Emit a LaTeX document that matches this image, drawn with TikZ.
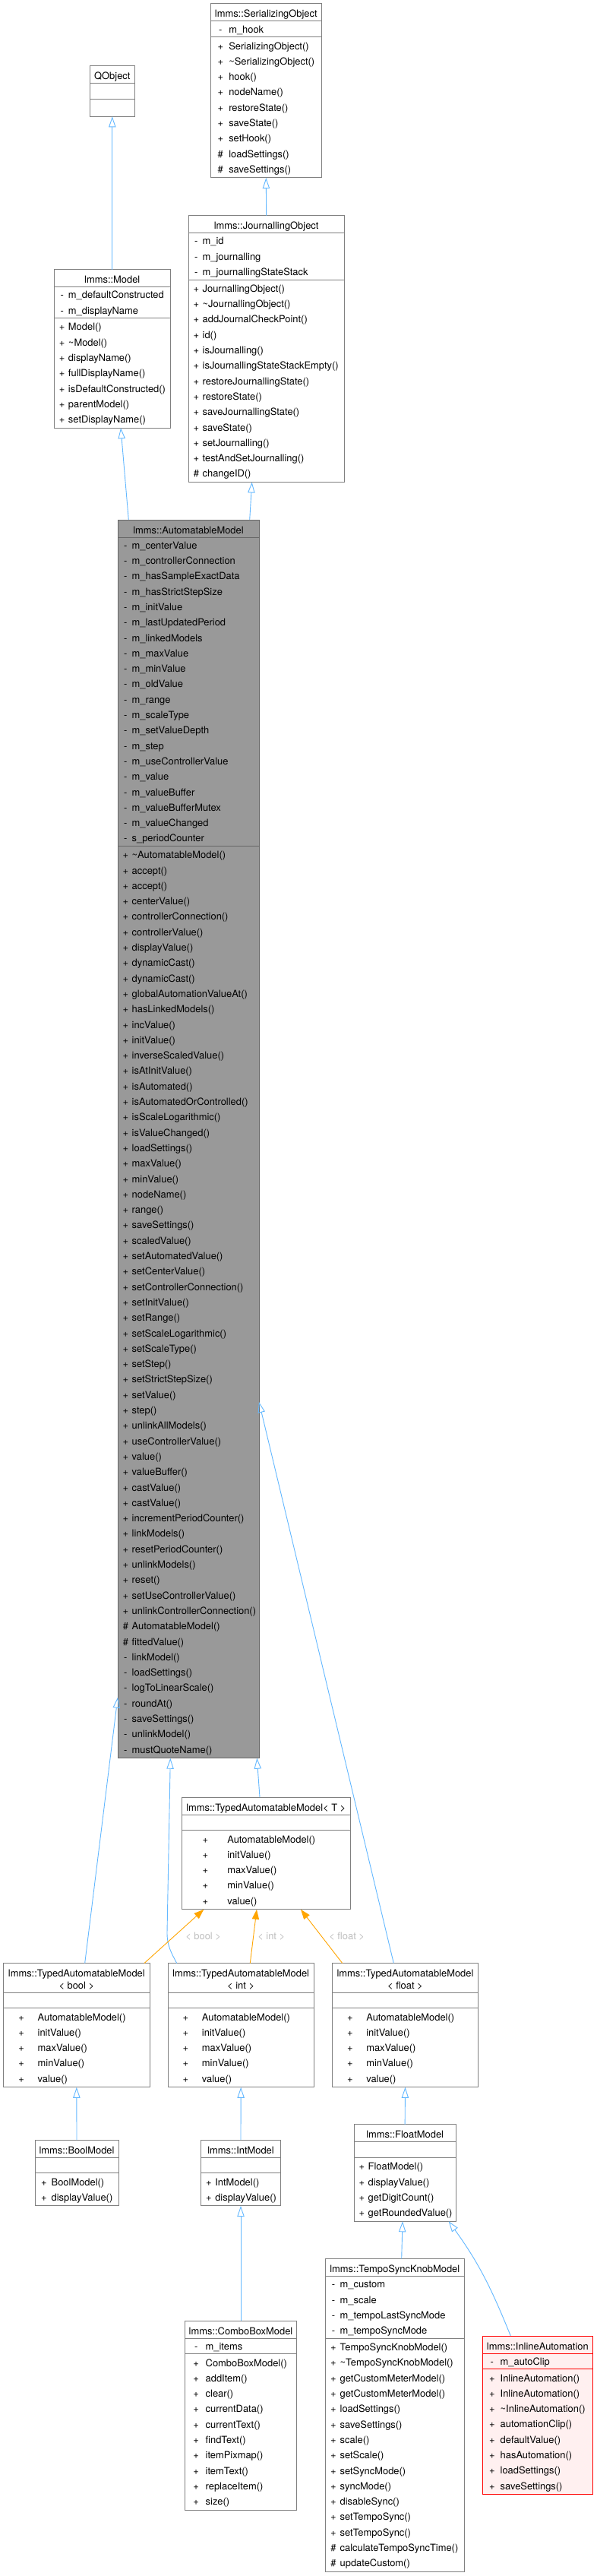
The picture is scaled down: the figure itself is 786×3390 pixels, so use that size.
\documentclass[tikz,border=0pt]{standalone}
\usepackage{fontspec}
\setmainfont{TeX Gyre Heros}
\usetikzlibrary{arrows.meta,positioning}
\definecolor{boxline}{HTML}{808080}
\definecolor{amfill}{HTML}{999999}
\definecolor{amline}{HTML}{666666}
\definecolor{inlinefill}{HTML}{FFF0F0}
\definecolor{inlineline}{HTML}{FF0000}
\definecolor{edgeblue}{HTML}{63B8FF}
\definecolor{tmplorange}{HTML}{FFA500}
\definecolor{lblgrey}{HTML}{BEBEBE}
\newlength\signw
\newcommand\rowstrut{\rule[-5.3pt]{0pt}{20.3pt}}
\newcommand\hdstrut{\rule[-5pt]{0pt}{23pt}}
\newcommand\mb[2]{\mbox{\makebox[\signw]{#1}#2}\rowstrut}
\tikzset{
  box/.style={draw=boxline,fill=white,line width=1pt,outer sep=0pt},
  hd/.style={box,anchor=north west,inner sep=0pt,minimum width=#1,align=center,font=\fontsize{12.9}{16}\selectfont},
  sec/.style 2 args={box,inner xsep=2pt,text width=#1,align=left,font=\fontsize{12.9}{20.3}\selectfont,execute at begin node={\setlength\signw{#2}}},
  attrs/.style 2 args={sec={#1}{#2},inner ysep=0.25pt},
  meths/.style 2 args={sec={#1}{#2},inner ysep=1.25pt},
  hot/.style={fill=amfill,draw=amline},
  inl/.style={fill=inlinefill,draw=inlineline},
  inh/.style={draw=edgeblue,line width=0.9pt,-{Triangle[open,length=14pt,width=9.3pt]}},
  tmpl/.style={draw=tmplorange,line width=0.9pt,-{Triangle[length=13pt,width=9.3pt]}},
  lbl/.style={text=lblgrey,inner sep=0pt,font=\fontsize{12.9}{16}\selectfont}
}

\begin{document}
\begin{tikzpicture}[x=1pt,y=-1pt]
\path[use as bounding box,fill=white] (0,0) rectangle (786,3390);

% top row
\node[hd=59pt] (qobj) at (118.3,86.7) {\hdstrut QObject};
\node[attrs={55pt}{0pt},below=0pt of qobj] (qobj-a) {\rowstrut};
\node[meths={55pt}{0pt},below=0pt of qobj-a] (qobj-m) {\rowstrut};

\node[hd=146pt] (so) at (277.3,5) {\hdstrut lmms::SerializingObject};
\node[attrs={142pt}{22pt},below=0pt of so] (so-a) {\mb{-}{m\_hook}};
\node[meths={142pt}{22pt},below=0pt of so-a] (so-m) {\mb{+}{SerializingObject()}\\\mb{+}{\textasciitilde SerializingObject()}\\\mb{+}{hook()}\\\mb{+}{nodeName()}\\\mb{+}{restoreState()}\\\mb{+}{saveState()}\\\mb{+}{setHook()}\\\mb{\#}{loadSettings()}\\\mb{\#}{saveSettings()}};

\node[hd=153pt] (model) at (71.3,354.5) {\hdstrut lmms::Model};
\node[attrs={149pt}{16.7pt},below=0pt of model] (model-a) {\mb{-}{m\_defaultConstructed}\\\mb{-}{m\_displayName}};
\node[meths={149pt}{16.7pt},below=0pt of model-a] (model-m) {\mb{+}{Model()}\\\mb{+}{\textasciitilde Model()}\\\mb{+}{displayName()}\\\mb{+}{fullDisplayName()}\\\mb{+}{isDefaultConstructed()}\\\mb{+}{parentModel()}\\\mb{+}{setDisplayName()}};

\node[hd=205.3pt] (jo) at (248,283.7) {\hdstrut lmms::JournallingObject};
\node[attrs={201.3pt}{16.7pt},below=0pt of jo] (jo-a) {\mb{-}{m\_id}\\\mb{-}{m\_journalling}\\\mb{-}{m\_journallingStateStack}};
\node[meths={201.3pt}{16.7pt},below=0pt of jo-a] (jo-m) {\mb{+}{JournallingObject()}\\\mb{+}{\textasciitilde JournallingObject()}\\\mb{+}{addJournalCheckPoint()}\\\mb{+}{id()}\\\mb{+}{isJournalling()}\\\mb{+}{isJournallingStateStackEmpty()}\\\mb{+}{restoreJournallingState()}\\\mb{+}{restoreState()}\\\mb{+}{saveJournallingState()}\\\mb{+}{saveState()}\\\mb{+}{setJournalling()}\\\mb{+}{testAndSetJournalling()}\\\mb{\#}{changeID()}};

% the highlighted class
\node[hd=186pt,hot] (am) at (155,684) {\hdstrut lmms::AutomatableModel};
\node[attrs={182pt}{16.7pt},hot,below=0pt of am] (am-a) {\mb{-}{m\_centerValue}\\\mb{-}{m\_controllerConnection}\\\mb{-}{m\_hasSampleExactData}\\\mb{-}{m\_hasStrictStepSize}\\\mb{-}{m\_initValue}\\\mb{-}{m\_lastUpdatedPeriod}\\\mb{-}{m\_linkedModels}\\\mb{-}{m\_maxValue}\\\mb{-}{m\_minValue}\\\mb{-}{m\_oldValue}\\\mb{-}{m\_range}\\\mb{-}{m\_scaleType}\\\mb{-}{m\_setValueDepth}\\\mb{-}{m\_step}\\\mb{-}{m\_useControllerValue}\\\mb{-}{m\_value}\\\mb{-}{m\_valueBuffer}\\\mb{-}{m\_valueBufferMutex}\\\mb{-}{m\_valueChanged}\\\mb{-}{s\_periodCounter}};
\node[meths={182pt}{16.7pt},hot,below=0pt of am-a] (am-m) {\mb{+}{\textasciitilde AutomatableModel()}\\\mb{+}{accept()}\\\mb{+}{accept()}\\\mb{+}{centerValue()}\\\mb{+}{controllerConnection()}\\\mb{+}{controllerValue()}\\\mb{+}{displayValue()}\\\mb{+}{dynamicCast()}\\\mb{+}{dynamicCast()}\\\mb{+}{globalAutomationValueAt()}\\\mb{+}{hasLinkedModels()}\\\mb{+}{incValue()}\\\mb{+}{initValue()}\\\mb{+}{inverseScaledValue()}\\\mb{+}{isAtInitValue()}\\\mb{+}{isAutomated()}\\\mb{+}{isAutomatedOrControlled()}\\\mb{+}{isScaleLogarithmic()}\\\mb{+}{isValueChanged()}\\\mb{+}{loadSettings()}\\\mb{+}{maxValue()}\\\mb{+}{minValue()}\\\mb{+}{nodeName()}\\\mb{+}{range()}\\\mb{+}{saveSettings()}\\\mb{+}{scaledValue()}\\\mb{+}{setAutomatedValue()}\\\mb{+}{setCenterValue()}\\\mb{+}{setControllerConnection()}\\\mb{+}{setInitValue()}\\\mb{+}{setRange()}\\\mb{+}{setScaleLogarithmic()}\\\mb{+}{setScaleType()}\\\mb{+}{setStep()}\\\mb{+}{setStrictStepSize()}\\\mb{+}{setValue()}\\\mb{+}{step()}\\\mb{+}{unlinkAllModels()}\\\mb{+}{useControllerValue()}\\\mb{+}{value()}\\\mb{+}{valueBuffer()}\\\mb{+}{castValue()}\\\mb{+}{castValue()}\\\mb{+}{incrementPeriodCounter()}\\\mb{+}{linkModels()}\\\mb{+}{resetPeriodCounter()}\\\mb{+}{unlinkModels()}\\\mb{+}{reset()}\\\mb{+}{setUseControllerValue()}\\\mb{+}{unlinkControllerConnection()}\\\mb{\#}{AutomatableModel()}\\\mb{\#}{fittedValue()}\\\mb{-}{linkModel()}\\\mb{-}{loadSettings()}\\\mb{-}{logToLinearScale()}\\\mb{-}{roundAt()}\\\mb{-}{saveSettings()}\\\mb{-}{unlinkModel()}\\\mb{-}{mustQuoteName()}};

% typed models
\node[hd=222pt] (tamt) at (239.3,2365) {\hdstrut lmms::TypedAutomatableModel< T >};
\node[attrs={218pt}{58pt},below=0pt of tamt] (tamt-a) {\rowstrut};
\node[meths={218pt}{58pt},below=0pt of tamt-a] (tamt-m) {\mb{+}{AutomatableModel()}\\\mb{+}{initValue()}\\\mb{+}{maxValue()}\\\mb{+}{minValue()}\\\mb{+}{value()}};

\node[hd=192.3pt] (tambool) at (4.7,2583.5) {\rule{0pt}{18.3pt}lmms::TypedAutomatableModel\\\rule[-4.2pt]{0pt}{4.2pt}< bool >};
\node[attrs={188.3pt}{43pt},below=0pt of tambool] (tambool-a) {\rowstrut};
\node[meths={188.3pt}{43pt},below=0pt of tambool-a] (tambool-m) {\mb{+}{AutomatableModel()}\\\mb{+}{initValue()}\\\mb{+}{maxValue()}\\\mb{+}{minValue()}\\\mb{+}{value()}};

\node[hd=192.3pt] (tamint) at (221,2583.5) {\rule{0pt}{18.3pt}lmms::TypedAutomatableModel\\\rule[-4.2pt]{0pt}{4.2pt}< int >};
\node[attrs={188.3pt}{43pt},below=0pt of tamint] (tamint-a) {\rowstrut};
\node[meths={188.3pt}{43pt},below=0pt of tamint-a] (tamint-m) {\mb{+}{AutomatableModel()}\\\mb{+}{initValue()}\\\mb{+}{maxValue()}\\\mb{+}{minValue()}\\\mb{+}{value()}};

\node[hd=192.3pt] (tamfloat) at (437.3,2583.5) {\rule{0pt}{18.3pt}lmms::TypedAutomatableModel\\\rule[-4.2pt]{0pt}{4.2pt}< float >};
\node[attrs={188.3pt}{43pt},below=0pt of tamfloat] (tamfloat-a) {\rowstrut};
\node[meths={188.3pt}{43pt},below=0pt of tamfloat-a] (tamfloat-m) {\mb{+}{AutomatableModel()}\\\mb{+}{initValue()}\\\mb{+}{maxValue()}\\\mb{+}{minValue()}\\\mb{+}{value()}};

% concrete models
\node[hd=110pt] (boolm) at (46,2816) {\hdstrut lmms::BoolModel};
\node[attrs={106pt}{19.7pt},below=0pt of boolm] (boolm-a) {\rowstrut};
\node[meths={106pt}{19.7pt},below=0pt of boolm-a] (boolm-m) {\mb{+}{BoolModel()}\\\mb{+}{displayValue()}};

\node[hd=105.4pt] (intm) at (264.3,2816) {\hdstrut lmms::IntModel};
\node[attrs={101.4pt}{17pt},below=0pt of intm] (intm-a) {\rowstrut};
\node[meths={101.4pt}{17pt},below=0pt of intm-a] (intm-m) {\mb{+}{IntModel()}\\\mb{+}{displayValue()}};

\node[hd=134.3pt] (floatm) at (466,2795.7) {\hdstrut lmms::FloatModel};
\node[attrs={130.3pt}{16.7pt},below=0pt of floatm] (floatm-a) {\rowstrut};
\node[meths={130.3pt}{16.7pt},below=0pt of floatm-a] (floatm-m) {\mb{+}{FloatModel()}\\\mb{+}{displayValue()}\\\mb{+}{getDigitCount()}\\\mb{+}{getRoundedValue()}};

\node[hd=146.6pt] (combo) at (243.7,3054) {\hdstrut lmms::ComboBoxModel};
\node[attrs={142.6pt}{25pt},below=0pt of combo] (combo-a) {\mb{-}{m\_items}};
\node[meths={142.6pt}{25pt},below=0pt of combo-a] (combo-m) {\mb{+}{ComboBoxModel()}\\\mb{+}{addItem()}\\\mb{+}{clear()}\\\mb{+}{currentData()}\\\mb{+}{currentText()}\\\mb{+}{findText()}\\\mb{+}{itemPixmap()}\\\mb{+}{itemText()}\\\mb{+}{replaceItem()}\\\mb{+}{size()}};

\node[hd=183pt] (tempo) at (428.3,2972.7) {\hdstrut lmms::TempoSyncKnobModel};
\node[attrs={179pt}{17.4pt},below=0pt of tempo] (tempo-a) {\mb{-}{m\_custom}\\\mb{-}{m\_scale}\\\mb{-}{m\_tempoLastSyncMode}\\\mb{-}{m\_tempoSyncMode}};
\node[meths={179pt}{17.4pt},below=0pt of tempo-a] (tempo-m) {\mb{+}{TempoSyncKnobModel()}\\\mb{+}{\textasciitilde TempoSyncKnobModel()}\\\mb{+}{getCustomMeterModel()}\\\mb{+}{getCustomMeterModel()}\\\mb{+}{loadSettings()}\\\mb{+}{saveSettings()}\\\mb{+}{scale()}\\\mb{+}{setScale()}\\\mb{+}{setSyncMode()}\\\mb{+}{syncMode()}\\\mb{+}{disableSync()}\\\mb{+}{setTempoSync()}\\\mb{+}{setTempoSync()}\\\mb{\#}{calculateTempoSyncTime()}\\\mb{\#}{updateCustom()}};

\node[hd=145.7pt,inl] (inline) at (635,3074) {\hdstrut lmms::InlineAutomation};
\node[attrs={141.7pt}{21.7pt},inl,below=0pt of inline] (inline-a) {\mb{-}{m\_autoClip}};
\node[meths={141.7pt}{21.7pt},inl,below=0pt of inline-a] (inline-m) {\mb{+}{InlineAutomation()}\\\mb{+}{InlineAutomation()}\\\mb{+}{\textasciitilde InlineAutomation()}\\\mb{+}{automationClip()}\\\mb{+}{defaultValue()}\\\mb{+}{hasAutomation()}\\\mb{+}{loadSettings()}\\\mb{+}{saveSettings()}};

% inheritance
\draw[inh] (model.north) -- (qobj-m.south);
\draw[inh] (jo.north) -- (so-m.south);
\draw[inh] ([xshift=14.3pt]am.north west) -- ([xshift=87.7pt]model-m.south west);
\draw[inh] ([xshift=173.7pt]am.north west) -- ([xshift=83.7pt]jo-m.south west);
\draw[inh] ([xshift=102.7pt]tamt.north west) -- ([xshift=183.3pt]am-m.south west);
\draw[inh] ([xshift=107pt]tambool.north west) -- ([yshift=80pt]am-m.south west);
\draw[inh] ([xshift=11.7pt]tamint.north west) to[out=118,in=-90] ([xshift=-1pt,yshift=40pt]tamint.north west) -- ([xshift=69.3pt]am-m.south west);
\draw[inh] ([xshift=81pt]tamfloat.north west) -- ([yshift=468.7pt]am-m.south east);
\draw[inh] (boolm.north) -- (tambool-m.south);
\draw[inh] (intm.north) -- (tamint-m.south);
\draw[inh] (combo.north) -- (intm-m.south);
\draw[inh] (floatm.north) -- (tamfloat-m.south);
\draw[inh] ([xshift=100.4pt]tempo.north west) -- ([xshift=64pt]floatm-m.south west);
\draw[inh] ([xshift=37.3pt]inline.north west) to[out=112,in=-54] ([xshift=124.7pt]floatm-m.south west);

% template instances
\draw[tmpl] ([xshift=185.3pt]tambool.north west) -- node[lbl,midway,xshift=38.5pt] (lbool) {< bool >} ([xshift=29pt]tamt-m.south west);
\draw[tmpl] ([xshift=108.3pt]tamint.north west) -- node[lbl,midway,xshift=23.6pt] (lint) {< int >} ([xshift=98.7pt]tamt-m.south west);
\draw[tmpl] ([xshift=13.4pt]tamfloat.north west) -- node[lbl,midway,xshift=33.3pt] (lfloat) {< float >} ([xshift=156.7pt]tamt-m.south west);
\end{tikzpicture}
\end{document}
